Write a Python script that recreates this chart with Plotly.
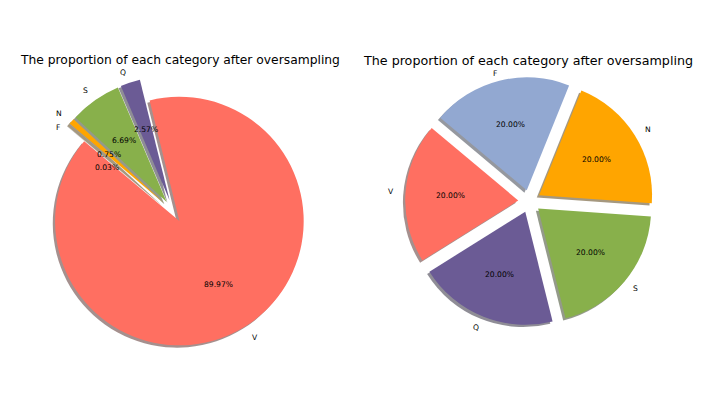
import math
import plotly.graph_objects as go

# ---------------- data ----------------
categories = ["V", "Q", "S", "N", "F"]            # counter-clockwise order
before_pct = [89.97, 2.57, 6.69, 0.75, 0.03]      # left pie (%)
after_pct = [20.00, 20.00, 20.00, 20.00, 20.00]   # right pie (%)
slice_colors = ["#FF6F61", "#6B5B95", "#88B04B", "#FFA500", "#92A8D1"]
title_text = "The proportion of each category after oversampling"

# ---------------- layout constants ----------------
W, H = 709, 399
START_ANGLE = 140          # degrees, counter-clockwise from 3 o'clock
SHADOW_PX = 2.3
FONT = "DejaVu Sans"
SMALL = 7.6

pies = [
    dict(values=before_pct, cx=173.3, cy=211.3, R=124.3, explode_px=11.5,
         title_x=180.2, title_y=59.8, title_size=12.3,
         label_yshift={"F": -12, "Q": -1.5}, pct_yshift={"F": -12}),
    dict(values=after_pct, cx=529.5, cy=201.3, R=113.0, explode_px=11.3,
         title_x=528.3, title_y=60.9, title_size=12.7,
         label_yshift={"F": -3.5}, pct_yshift={}),
]


def shadow_rgba(hex_color):
    h = hex_color.lstrip("#")
    r, g, b = (int(h[i:i + 2], 16) for i in (0, 2, 4))
    return f"rgba({0.3 * r:.0f},{0.3 * g:.0f},{0.3 * b:.0f},0.5)"


fig = go.Figure()
annotations = []
axis_layout = {}

for k, p in enumerate(pies):
    R = p["R"]
    pull = p["explode_px"] / R
    half = R * (1 + pull)
    dom_x = [(p["cx"] - half) / W, (p["cx"] + half) / W]
    dom_y = [(H - p["cy"] - half) / H, (H - p["cy"] + half) / H]
    sdx, sdy = -SHADOW_PX / W, -SHADOW_PX / H

    # clockwise listing starting at START_ANGLE == reversed counter-clockwise order
    vals = p["values"][::-1]
    labs = categories[::-1]
    cols = slice_colors[::-1]

    common = dict(values=vals, labels=labs, sort=False, direction="clockwise",
                  rotation=90 - START_ANGLE, pull=[pull] * len(vals),
                  textinfo="none", hoverinfo="skip", showlegend=False)
    fig.add_trace(go.Pie(**common,
                         marker=dict(colors=[shadow_rgba(c) for c in cols], line=dict(width=0)),
                         domain=dict(x=[dom_x[0] + sdx, dom_x[1] + sdx],
                                     y=[dom_y[0] + sdy, dom_y[1] + sdy])))
    fig.add_trace(go.Pie(**common,
                         marker=dict(colors=cols, line=dict(width=0)),
                         domain=dict(x=dom_x, y=dom_y)))

    # helper cartesian axes: 1 unit == pie radius, origin at pie centre
    xa = "x" if k == 0 else f"x{k + 1}"
    ya = "y" if k == 0 else f"y{k + 1}"
    xkey = "xaxis" if k == 0 else f"xaxis{k + 1}"
    ykey = "yaxis" if k == 0 else f"yaxis{k + 1}"
    axis_layout[xkey] = dict(domain=[0, 1], range=[-p["cx"] / R, (W - p["cx"]) / R],
                             visible=False, fixedrange=True, anchor=ya)
    axis_layout[ykey] = dict(domain=[0, 1], range=[-(H - p["cy"]) / R, p["cy"] / R],
                             visible=False, fixedrange=True, anchor=xa)
    fig.add_trace(go.Scatter(x=[], y=[], xaxis=xa, yaxis=ya, hoverinfo="skip",
                             showlegend=False))

    total = sum(p["values"])
    cum = 0.0
    for lab, v in zip(categories, p["values"]):
        theta = math.radians(START_ANGLE + 360.0 * (cum + v / 2) / total)
        cum += v
        dl = pull + 1.1
        xl, yl = dl * math.cos(theta), dl * math.sin(theta)
        annotations.append(dict(text=lab, x=xl, y=yl, xref=xa, yref=ya, showarrow=False,
                                xanchor="left" if xl > 0 else "right", yanchor="middle",
                                yshift=p["label_yshift"].get(lab, 0),
                                borderpad=0, borderwidth=0,
                                font=dict(family=FONT, size=SMALL, color="black")))
        dp = pull + 0.6
        annotations.append(dict(text=f"{v:.2f}%", x=dp * math.cos(theta), y=dp * math.sin(theta),
                                xref=xa, yref=ya, showarrow=False,
                                xanchor="center", yanchor="middle",
                                yshift=p["pct_yshift"].get(lab, 0),
                                borderpad=0, borderwidth=0,
                                font=dict(family=FONT, size=SMALL, color="black")))

    annotations.append(dict(text=title_text, x=p["title_x"] / W, y=(H - p["title_y"]) / H,
                            xref="paper", yref="paper", showarrow=False,
                            xanchor="center", yanchor="middle", borderpad=0, borderwidth=0,
                            font=dict(family=FONT, size=p["title_size"], color="black")))

fig.update_layout(width=W, height=H, margin=dict(l=0, r=0, t=0, b=0, pad=0),
                  paper_bgcolor="white", plot_bgcolor="rgba(0,0,0,0)",
                  showlegend=False, annotations=annotations, **axis_layout)

fig.write_html("out.html", config={"displayModeBar": False},
               post_script="document.body.style.margin='0px';document.body.style.overflow='hidden';")
